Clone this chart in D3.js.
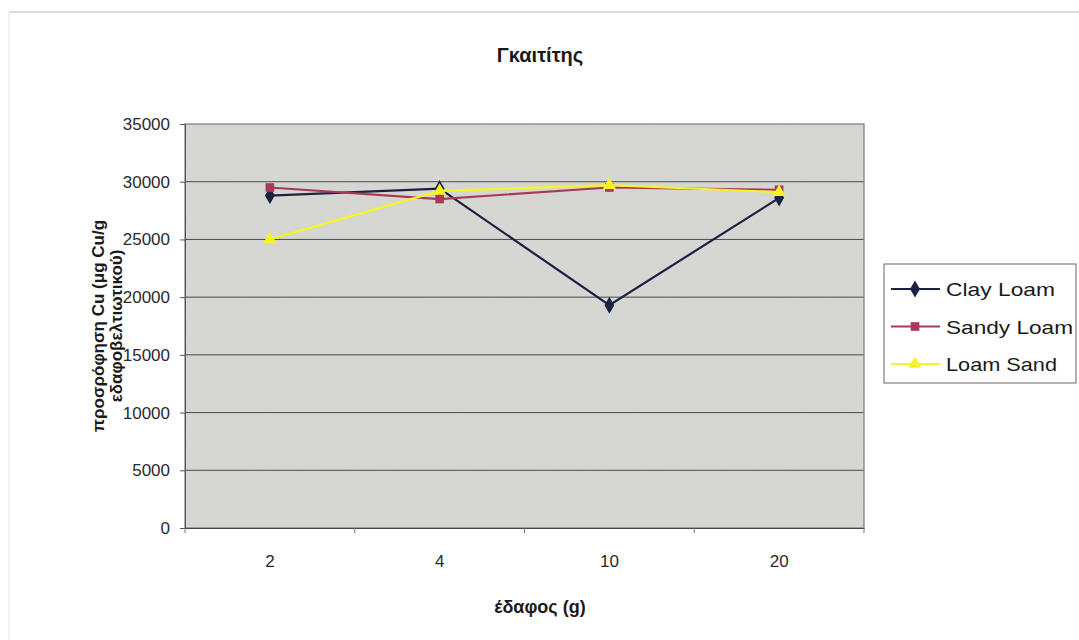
<!DOCTYPE html>
<html><head><meta charset="utf-8">
<script src="https://cdn.jsdelivr.net/npm/d3@7"></script>
<style>
body{margin:0;background:#fff;}
svg{display:block;font-family:Arial,"Liberation Sans",sans-serif;}
</style></head>
<body>
<svg id="c" width="1079" height="640"></svg>
<script>
const categories = ["2","4","10","20"];
const seriesNames = ["Clay Loam","Sandy Loam","Loam Sand"];
const clayLoam = [28800, 29400, 19300, 28600];
const sandyLoam = [29500, 28500, 29500, 29300];
const loamSand = [25000, 29200, 29700, 29100];
const yTicks = [0,5000,10000,15000,20000,25000,30000,35000];
const title = "Γκαιτίτης";
const xTitle = "έδαφος (g)";
const yTitle = ["προσρόφηση Cu (μg Cu/g", "εδαφοβελτιωτικού)"];

const series = [
  {name: seriesNames[0], values: clayLoam, color: "#1b2140", marker: "diamond"},
  {name: seriesNames[1], values: sandyLoam, color: "#a83a58", marker: "square"},
  {name: seriesNames[2], values: loamSand, color: "#f5f526", marker: "triangle"}
];
const legendWidths = [109, 127, 111];

const svg = d3.select("#c");
const L = 185, R = 864, T = 124, B = 528;

// outer chart frame (light)
svg.append("line").attr("x1",9).attr("x2",1079).attr("y1",12).attr("y2",12).attr("stroke","#b8b8b8").attr("stroke-width",1);
svg.append("line").attr("x1",9).attr("x2",9).attr("y1",12).attr("y2",640).attr("stroke","#e4e4e4").attr("stroke-width",1);

const x = d3.scaleBand().domain(categories).range([L, R]).padding(0);
const y = d3.scaleLinear().domain([0, 35000]).range([B, T]);

// plot background
const defs = svg.append("defs");
const f = defs.append("filter").attr("id","noise").attr("x",0).attr("y",0).attr("width","100%").attr("height","100%");
f.append("feTurbulence").attr("type","fractalNoise").attr("baseFrequency",0.9).attr("numOctaves",2).attr("seed",3).attr("result","n");
f.append("feColorMatrix").attr("in","n").attr("type","matrix")
 .attr("values","0 0 0 0 0.6  0 0 0 0 0.6  0 0 0 0 0.58  0 0 0 0.2 0").attr("result","m");
f.append("feComposite").attr("in","m").attr("in2","SourceGraphic").attr("operator","in");

svg.append("rect").attr("x",L).attr("y",T).attr("width",R-L).attr("height",B-T).attr("fill","#d7d7d4");
svg.append("rect").attr("x",L).attr("y",T).attr("width",R-L).attr("height",B-T).attr("fill","#d7d7d4").attr("filter","url(#noise)");

// gridlines
svg.append("g").selectAll("line").data(yTicks.filter(d=>d>0 && d<35000)).join("line")
  .attr("x1",L).attr("x2",R).attr("y1",d=>y(d)).attr("y2",d=>y(d))
  .attr("stroke","#4a4a4a").attr("stroke-width",1);

// plot border
svg.append("rect").attr("x",L).attr("y",T).attr("width",R-L).attr("height",B-T)
  .attr("fill","none").attr("stroke","#7a7a7a").attr("stroke-width",1.2);

// y axis
const yAxis = svg.append("g").attr("transform",`translate(${L},0)`)
  .call(d3.axisLeft(y).tickValues(yTicks).tickSize(5).tickPadding(10).tickFormat(d3.format("d")));
yAxis.select(".domain").attr("stroke","#555");
yAxis.selectAll(".tick line").attr("stroke","#555");
yAxis.selectAll("text").attr("font-size",17).attr("fill","#2a2a2a").attr("font-family","Arial,'Liberation Sans',sans-serif");

// x axis: labels at band centres, ticks at band edges
const xAxis = svg.append("g").attr("transform",`translate(0,${B})`)
  .call(d3.axisBottom(x).tickSize(0).tickPadding(27));
xAxis.select(".domain").attr("stroke","#444").attr("stroke-width",1.2);
xAxis.selectAll("text").attr("font-size",17).attr("fill","#2a2a2a").attr("font-family","Arial,'Liberation Sans',sans-serif");
const edges = categories.map(c => x(c)).concat([R]);
svg.append("g").selectAll("line").data(edges).join("line")
  .attr("x1",d=>d).attr("x2",d=>d).attr("y1",B).attr("y2",B+5).attr("stroke","#777");

// marker path
function markerPath(type, size){
  if(type==="diamond") return d3.symbol(d3.symbolDiamond, size)();
  if(type==="square") return d3.symbol(d3.symbolSquare, size)();
  return d3.symbol(d3.symbolTriangle, size)();
}

const line = d3.line().x((d,i)=>x(categories[i]) + x.bandwidth()/2).y(d=>y(d));
series.forEach(s=>{
  svg.append("path").datum(s.values).attr("d",line)
    .attr("fill","none").attr("stroke",s.color).attr("stroke-width",2.2);
  svg.append("g").selectAll("path").data(s.values).join("path")
    .attr("transform",(d,i)=>`translate(${x(categories[i]) + x.bandwidth()/2},${y(d)})`)
    .attr("d",markerPath(s.marker, s.marker==="diamond"?85:75))
    .attr("fill",s.color);
});

// title
svg.append("text").attr("x",540).attr("y",62).attr("text-anchor","middle")
  .attr("font-size",20).attr("font-weight","bold").attr("fill","#1a1a1a").text(title);

// x title
svg.append("text").attr("x",540).attr("y",613).attr("text-anchor","middle")
  .attr("font-size",18).attr("font-weight","bold").attr("fill","#1a1a1a").text(xTitle);

// y title (two lines, rotated)
const yt = svg.append("text").attr("transform",`translate(104,${(T+B)/2}) rotate(-90)`)
  .attr("text-anchor","middle").attr("font-size",17).attr("font-weight","bold").attr("fill","#1a1a1a");
yt.selectAll("tspan").data(yTitle).join("tspan").attr("x",0).attr("dy",(d,i)=>i===0?0:18).text(d=>d);

// legend
const lg = svg.append("g");
lg.append("rect").attr("x",884).attr("y",264).attr("width",192).attr("height",119)
  .attr("fill","#fff").attr("stroke","#666").attr("stroke-width",1);
series.forEach((s,i)=>{
  const ly = 289 + i*37.5;
  lg.append("line").attr("x1",891).attr("x2",940).attr("y1",ly).attr("y2",ly).attr("stroke",s.color).attr("stroke-width",2.2);
  lg.append("path").attr("transform",`translate(915,${ly})`).attr("d",markerPath(s.marker, s.marker==="diamond"?85:75)).attr("fill",s.color);
  lg.append("text").attr("x",946).attr("y",ly+7).attr("font-size",19).attr("fill","#1a1a1a")
    .attr("textLength",legendWidths[i]).attr("lengthAdjust","spacingAndGlyphs").text(s.name);
});
</script>
</body></html>
